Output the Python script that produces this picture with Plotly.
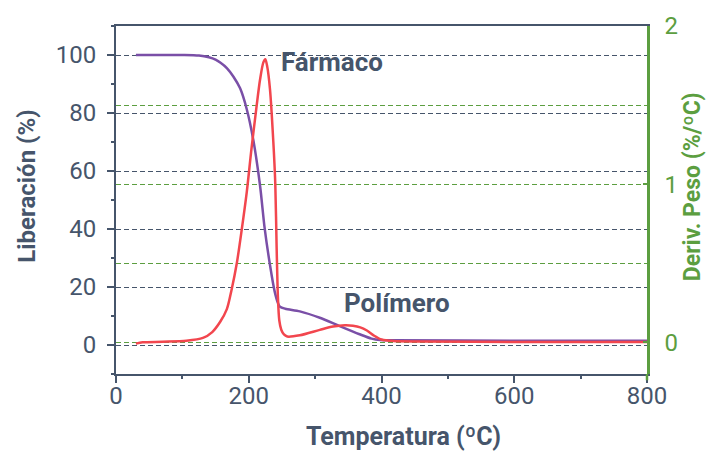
import plotly.graph_objects as go

# Derivative of weight loss (right axis), %/ºC
temp_farmaco = [30, 40, 70, 106, 131, 145, 157, 167, 174, 182, 189, 197, 204, 212, 217,
                222, 225, 228, 232, 237, 240, 242, 244, 246, 249, 253, 258, 277,
                307, 327, 345, 357, 368, 378, 389, 400, 418, 458, 600, 800]
deriv_farmaco = [-0.008, 0.0, 0.004, 0.01, 0.028, 0.065, 0.13, 0.21, 0.33, 0.50, 0.70,
                 0.95, 1.22, 1.50, 1.66, 1.77, 1.79, 1.74, 1.60, 1.27, 1.0, 0.6,
                 0.28, 0.14, 0.08, 0.05, 0.037, 0.045, 0.079, 0.10, 0.108, 0.105,
                 0.095, 0.075, 0.042, 0.018, 0.008, 0.005, 0.003, 0.003]

# Remaining mass (left axis), %
temp_polimero = [30, 100, 125, 140, 150, 157, 167, 177, 187, 197, 207, 217, 224, 232,
                 239, 244, 247, 255, 277, 307, 337, 367, 385, 398, 420, 600, 800]
lib_polimero = [100, 100, 99.8, 99.2, 98.4, 97.4, 95.5, 92.5, 88.5, 81.3, 70.5, 55,
                40.2, 27.6, 18.5, 14.5, 13.2, 12.5, 11.6, 9.4, 6.5, 3.7, 2.2, 1.7,
                1.6, 1.5, 1.5]

labels = ["Fármaco", "Polímero"]

DARK = "#46556b"
GREEN = "#5c9e40"
RED = "#f2464e"
PURPLE = "#7a4fa7"
FONT = "Roboto"
DASH = "5px,3px"

fig = go.Figure()
fig.add_trace(go.Scatter(x=temp_polimero, y=lib_polimero, mode="lines",
                         line=dict(color=PURPLE, width=2.5, shape="spline", smoothing=0.8),
                         name=labels[1], yaxis="y"))
fig.add_trace(go.Scatter(x=temp_farmaco, y=deriv_farmaco, mode="lines",
                         line=dict(color=RED, width=2.5, shape="spline", smoothing=0.8),
                         name=labels[0], yaxis="y2"))

fig.update_layout(
    width=707, height=452,
    margin=dict(l=116, r=60, t=23, b=78),
    plot_bgcolor="white", paper_bgcolor="white",
    showlegend=False,
    font=dict(family=FONT, color=DARK, size=24),
    xaxis=dict(range=[0, 800], tickmode="linear", tick0=0, dtick=200,
               showgrid=False, zeroline=False,
               showline=True, linecolor=DARK, linewidth=2, mirror=True,
               ticks="outside", ticklen=7, tickwidth=2, tickcolor=DARK,
               minor=dict(dtick=100, ticks="outside", ticklen=3, tickwidth=2, tickcolor=DARK),
               ticklabelstandoff=-8,
               tickfont=dict(size=24, color=DARK)),
    yaxis=dict(range=[-10, 110], tickmode="linear", tick0=0, dtick=20,
               showgrid=True, gridcolor=DARK, gridwidth=1, griddash=DASH,
               zeroline=False, showline=True, linecolor=DARK, linewidth=2,
               ticks="outside", ticklen=7, tickwidth=2, tickcolor=DARK,
               minor=dict(dtick=10, ticks="outside", ticklen=3, tickwidth=2, tickcolor=DARK),
               ticklabelstandoff=6,
               tickfont=dict(size=24, color=DARK)),
    yaxis2=dict(range=[-0.2, 2], overlaying="y", side="right",
                tickmode="linear", tick0=0, dtick=1,
                showgrid=True, gridcolor=GREEN, gridwidth=1, griddash=DASH,
                minor=dict(dtick=0.5, showgrid=True, gridcolor=GREEN, gridwidth=1,
                           griddash=DASH),
                zeroline=False, showline=True, linecolor=GREEN, linewidth=2.5,
                ticks="inside", ticklen=4, tickwidth=2, tickcolor=GREEN,
                ticklabelstandoff=10,
                tickfont=dict(size=24, color=GREEN)),
)

# Axis titles
fig.add_annotation(text="<b>Liberación (%)</b>", xref="paper", yref="paper",
                   x=-0.1676, y=0.538, xanchor="center", yanchor="middle",
                   textangle=-90, showarrow=False,
                   font=dict(size=24, color=DARK))
fig.add_annotation(text="<b>Deriv. Peso (%/ºC)</b>", xref="paper", yref="paper",
                   x=1.0855, y=0.538, xanchor="center", yanchor="middle",
                   textangle=-90, showarrow=False,
                   font=dict(size=23, color=GREEN))
fig.add_annotation(text="<b>Temperatura (ºC)</b>", xref="paper", yref="paper",
                   x=0.542, y=-0.179, xanchor="center", yanchor="middle",
                   showarrow=False, font=dict(size=25, color=DARK))

# Curve labels
fig.add_annotation(text="<b>" + labels[0] + "</b>", x=325, y=97.6, xref="x", yref="y",
                   xanchor="center", yanchor="middle",
                   showarrow=False, font=dict(size=26, color=DARK))
fig.add_annotation(text="<b>" + labels[1] + "</b>", x=423, y=14.4, xref="x", yref="y",
                   xanchor="center", yanchor="middle",
                   showarrow=False, font=dict(size=26, color=DARK))

# Right axis line extends slightly below the plot frame
fig.add_shape(type="line", xref="paper", yref="paper", x0=1, x1=1, y0=-0.018, y1=0,
              line=dict(color=GREEN, width=2.5))

fig.write_html("out.html")
